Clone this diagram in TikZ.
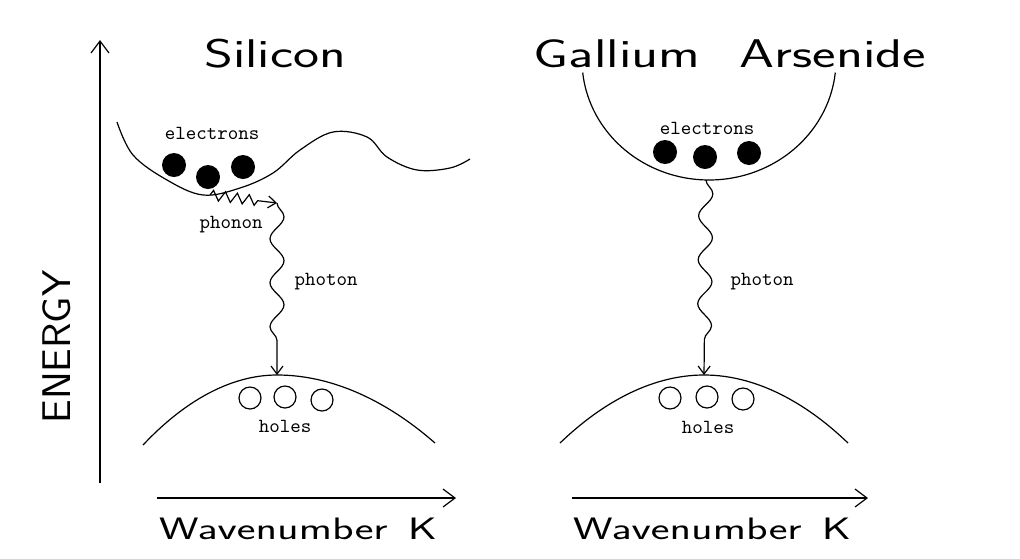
\documentclass[tikz,border=0pt]{standalone}
\usepackage{fontspec}
\usepackage{graphicx}
\usetikzlibrary{arrows.meta,decorations.pathmorphing}

% wide lettering of the plotter font
\newcommand{\widetxt}[2]{\scalebox{#1}[1]{#2}}

\begin{document}
\begin{tikzpicture}[x=0.5pt, y=-0.5pt, line width=0.6pt,
    title/.style={font=\fontsize{20}{24}\sffamily},
    axislabel/.style={font=\fontsize{15.5}{18}\sffamily},
    smalllabel/.style={font=\fontsize{10}{12}\ttfamily},
    electron/.style={circle, fill, inner sep=0pt, minimum size=12pt},
    hole/.style={circle, draw, inner sep=0pt, minimum size=11pt},
    axis/.style={-{Straight Barb[length=6pt,width=9pt]}},
    photon/.style={-{Straight Barb[length=4pt,width=6pt]}, decorate, decoration={snake, amplitude=3.5pt, segment length=22pt, post=lineto, post length=7pt}},
    phonon/.style={-{Straight Barb[length=4pt,width=6pt]}, decorate, decoration={zigzag, amplitude=2.5pt, segment length=6pt, post=lineto, post length=7pt}}]
    \useasboundingbox (0,0) rectangle (1020,558);

    % Energy axis
    \coordinate (origin) at (100,483);
    \coordinate (etop) at (100,40);
    \draw [axis] (origin) -- (etop);
    \node [title, rotate=90] (energy) at (57,347) {\widetxt{1.05}{ENERGY}};

    % Silicon
    \node [title] (si) at (275,54) {\widetxt{1.38}{Silicon}};
    \draw plot [smooth, tension=0.6] coordinates {(117,122) (133,155) (167,180) (203,195) (240,188) (273,173) (300,150) (333,132) (367,137) (387,157) (417,170) (450,168) (470,159)};
    \node [electron] (si e1) at (174,165) {};
    \node [electron] (si e2) at (208,177) {};
    \node [electron] (si e3) at (243,167) {};
    \node [smalllabel] (si elec) at (212,133) {electrons};
    \coordinate (si cmin) at (210,195);
    \coordinate (si kink) at (277,203);
    \coordinate (si vtop) at (277,375);
    \draw [phonon] (si cmin) -- (si kink);
    \draw [photon] (si kink) -- (si vtop);
    \node [smalllabel] (si phonon) at (231,225) {phonon};
    \node [smalllabel] (si photon) at (326,282) {photon};
    \draw (143,445) parabola bend (si vtop) (435,443);
    \node [hole] (si h1) at (250,398) {};
    \node [hole] (si h2) at (285,397) {};
    \node [hole] (si h3) at (322,400) {};
    \node [smalllabel] (si holes) at (285,426) {holes};
    \coordinate (si k0) at (157,498);
    \coordinate (si k1) at (456,498);
    \draw [axis] (si k0) -- (si k1);
    \node [axislabel] (si wave) at (298,529) {\widetxt{1.44}{Wavenumber\hspace{0.45em}K}};

    % Gallium Arsenide
    \node [title] (gaas) at (730,54) {\widetxt{1.4}{Gallium\hspace{0.7em}Arsenide}};
    \draw plot [domain=6:174, samples=60, smooth] ({709+127*cos(\x)},{60+120*sin(\x)});
    \node [electron] (ga e1) at (665,152) {};
    \node [electron] (ga e2) at (705,157) {};
    \node [electron] (ga e3) at (749,153) {};
    \node [smalllabel] (ga elec) at (707,128) {electrons};
    \coordinate (ga cmin) at (706,180);
    \coordinate (ga vtop) at (704,375);
    \draw [photon] (ga cmin) -- (ga vtop);
    \node [smalllabel] (ga photon) at (762,282) {photon};
    \draw (560,443) parabola bend (ga vtop) (848,443);
    \node [hole] (ga h1) at (670,398) {};
    \node [hole] (ga h2) at (707,397) {};
    \node [hole] (ga h3) at (743,399) {};
    \node [smalllabel] (ga holes) at (708,427) {holes};
    \coordinate (ga k0) at (572,498);
    \coordinate (ga k1) at (868,498);
    \draw [axis] (ga k0) -- (ga k1);
    \node [axislabel] (ga wave) at (712,529) {\widetxt{1.44}{Wavenumber\hspace{0.45em}K}};
\end{tikzpicture}
\end{document}
